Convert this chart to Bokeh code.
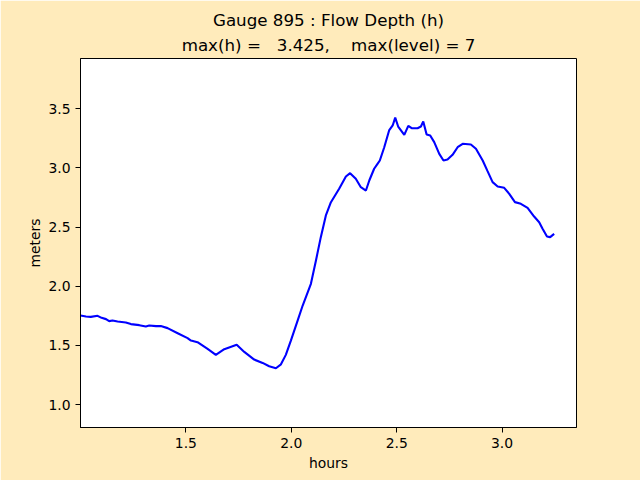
from bokeh.plotting import figure
from bokeh.models import Range1d, FixedTicker, PrintfTickFormatter, Title
from bokeh.embed import file_html
from bokeh.resources import INLINE

hours = [1.000, 1.026, 1.049, 1.081, 1.100, 1.121, 1.136, 1.152, 1.176, 1.215,
         1.239, 1.279, 1.310, 1.326, 1.358, 1.381, 1.413, 1.461, 1.508, 1.524,
         1.555, 1.603, 1.642, 1.682, 1.741, 1.777, 1.824, 1.864, 1.895, 1.927,
         1.951, 1.974, 1.998, 2.014, 2.030, 2.054, 2.093, 2.117, 2.140, 2.164,
         2.188, 2.227, 2.259, 2.279, 2.306, 2.330, 2.354, 2.370, 2.393, 2.409,
         2.420, 2.441, 2.464, 2.481, 2.493, 2.507, 2.536, 2.555, 2.571, 2.599,
         2.615, 2.626, 2.642, 2.659, 2.678, 2.702, 2.722, 2.741, 2.765, 2.789,
         2.813, 2.852, 2.876, 2.908, 2.931, 2.955, 2.979, 3.010, 3.034, 3.061,
         3.089, 3.121, 3.152, 3.176, 3.192, 3.213, 3.228, 3.247]
depth = [1.753, 1.744, 1.741, 1.750, 1.733, 1.722, 1.705, 1.710, 1.702, 1.694,
         1.680, 1.671, 1.660, 1.668, 1.663, 1.663, 1.646, 1.603, 1.561, 1.541,
         1.527, 1.470, 1.420, 1.468, 1.505, 1.445, 1.380, 1.352, 1.324, 1.307,
         1.340, 1.420, 1.541, 1.625, 1.710, 1.837, 2.021, 2.218, 2.415, 2.598,
         2.710, 2.824, 2.928, 2.956, 2.908, 2.837, 2.809, 2.894, 2.993, 3.035,
         3.063, 3.175, 3.317, 3.359, 3.425, 3.350, 3.280, 3.356, 3.336, 3.336,
         3.350, 3.393, 3.283, 3.274, 3.218, 3.119, 3.063, 3.071, 3.111, 3.175,
         3.204, 3.198, 3.162, 3.063, 2.973, 2.880, 2.843, 2.832, 2.781, 2.711,
         2.697, 2.663, 2.589, 2.541, 2.486, 2.420, 2.415, 2.443]
x_ticks = [1.5, 2.0, 2.5, 3.0]
y_ticks = [1.0, 1.5, 2.0, 2.5, 3.0, 3.5]
title_line1 = "Gauge 895 : Flow Depth (h)"
title_line2 = "max(h) =\u00a0\u00a0 3.425,\u00a0\u00a0\u00a0 max(level) = 7"

BG = "#ffebbb"
FONT = "DejaVu Sans"

p = figure(width=640, height=480, output_backend="svg", toolbar_location=None,
           x_range=Range1d(1.0, 3.353), y_range=Range1d(0.806, 3.925),
           min_border_left=80, min_border_right=64, min_border_top=58,
           min_border_bottom=53, title=None)
p.border_fill_color = BG
p.background_fill_color = "white"
p.outline_line_color = "black"
p.outline_line_width = 1
p.grid.visible = False

p.line(hours, depth, line_color="blue", line_width=2.1)

for ax in (p.xaxis[0], p.yaxis[0]):
    ax.axis_line_color = "black"
    ax.major_tick_line_color = "black"
    ax.major_tick_out = 5
    ax.major_tick_in = 0
    ax.minor_tick_line_color = None
    ax.major_label_standoff = 5
    ax.major_label_text_font = FONT
    ax.major_label_text_font_size = "13.9px"
    ax.major_label_text_color = "black"
    ax.axis_label_text_font = FONT
    ax.axis_label_text_font_size = "13.9px"
    ax.axis_label_text_font_style = "normal"
    ax.axis_label_text_color = "black"
    ax.formatter = PrintfTickFormatter(format="%.1f")

p.xaxis.ticker = FixedTicker(ticks=x_ticks)
p.yaxis.ticker = FixedTicker(ticks=y_ticks)
p.xaxis.axis_label = "hours"
p.yaxis.axis_label = "meters"
p.xaxis.axis_label_standoff = 4
p.yaxis.axis_label_standoff = 2

t2 = Title(text=title_line2, align="center", text_font=FONT, text_color="black",
           text_font_size="16.7px", text_font_style="normal", standoff=7)
t1 = Title(text=title_line1, align="center", text_font=FONT, text_color="black",
           text_font_size="16.7px", text_font_style="normal", standoff=0)
p.add_layout(t2, "above")
p.add_layout(t1, "above")

open("out.html", "w").write(file_html(p, INLINE))
